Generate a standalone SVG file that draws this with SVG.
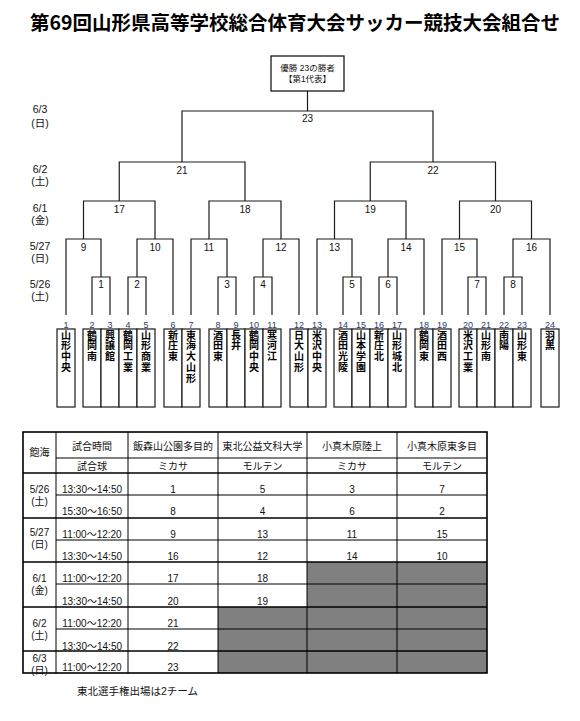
<svg xmlns="http://www.w3.org/2000/svg" width="580" height="721" viewBox="0 0 580 721">
<style>
.t{font-family:"Liberation Sans","Noto Sans CJK JP",sans-serif;fill:#111}
.title{font-family:"Noto Sans CJK JP","Liberation Sans",sans-serif;font-weight:bold;font-size:19.5px;text-anchor:middle;fill:#000}
.ln{fill:none;stroke:#1a1a1a;stroke-width:1.2}
.cell{fill:#fff;stroke:#1a1a1a;stroke-width:1.2}
.tn{font-family:"Noto Sans CJK JP",sans-serif;font-weight:bold;font-size:10px;fill:#000;writing-mode:vertical-rl;letter-spacing:0.7px}
.no{font-family:"Liberation Sans",sans-serif;font-size:9px;text-anchor:middle;fill:#1f3a6a}
.mn{font-size:10px;text-anchor:middle}
.dt{font-size:10.5px;text-anchor:middle}
.tb{font-size:10px;text-anchor:middle}
.g{fill:#808080}
.th{stroke:#000;stroke-width:1.6}
.tl{stroke:#000;stroke-width:1}
.bx{fill:#fff;stroke:#1a1a1a;stroke-width:1.3}
</style>
<rect width="580" height="721" fill="#fff"/>
<text class="title" x="295" y="30">第69回山形県高等学校総合体育大会サッカー競技大会組合せ</text>

<g id="champion">
<rect class="bx" x="271" y="56" width="73" height="35"/>
<text class="t" x="307.5" y="71" font-size="8.5" text-anchor="middle" fill="#333">優勝 23の勝者</text>
<text class="t" x="307.5" y="82" font-size="8.5" text-anchor="middle" fill="#333">【第1代表】</text>
</g>

<g id="dates">
<text class="t dt" x="40" y="112.5">6/3</text><text class="t dt" x="40" y="126.5">(日)</text>
<text class="t dt" x="40" y="172.5">6/2</text><text class="t dt" x="40" y="185">(土)</text>
<text class="t dt" x="40" y="211.5">6/1</text><text class="t dt" x="40" y="223.5">(金)</text>
<text class="t dt" x="40" y="249.5">5/27</text><text class="t dt" x="40" y="262">(日)</text>
<text class="t dt" x="40" y="287.5">5/26</text><text class="t dt" x="40" y="300">(土)</text>
</g>

<g id="connectors">
<path class="ln" d="M307.5 91V111"/>
<path class="ln" d="M182 162V111H433V162"/>
<path class="ln" d="M119.25 201V162H245V201"/>
<path class="ln" d="M370.25 201V162H495.5V201"/>
<path class="ln" d="M83.5 239V201H155V239"/>
<path class="ln" d="M209 239V201H281V239"/>
<path class="ln" d="M334.5 239V201H406V239"/>
<path class="ln" d="M459.5 239V201H531.5V239"/>
<path class="ln" d="M66 315V239H101V277"/>
<path class="ln" d="M137 277V239H173V315"/>
<path class="ln" d="M191 315V239H227V277"/>
<path class="ln" d="M263 277V239H299V315"/>
<path class="ln" d="M317 315V239H352V277"/>
<path class="ln" d="M388 277V239H424V315"/>
<path class="ln" d="M442 315V239H477V277"/>
<path class="ln" d="M513 277V239H550V315"/>
<path class="ln" d="M92 315V277H110V315"/>
<path class="ln" d="M128 315V277H146V315"/>
<path class="ln" d="M218 315V277H236V315"/>
<path class="ln" d="M254 315V277H272V315"/>
<path class="ln" d="M343 315V277H361V315"/>
<path class="ln" d="M379 315V277H397V315"/>
<path class="ln" d="M468 315V277H486V315"/>
<path class="ln" d="M504 315V277H522V315"/>
</g>

<g id="match-labels" class="t mn">
<text x="307.5" y="121.5">23</text>
<text x="182" y="173.5">21</text><text x="433" y="173.5">22</text>
<text x="119.25" y="212.5">17</text><text x="245" y="212.5">18</text><text x="370.25" y="212.5">19</text><text x="495.5" y="212.5">20</text>
<text x="83.5" y="250.5">9</text><text x="155" y="250.5">10</text><text x="209" y="250.5">11</text><text x="281" y="250.5">12</text>
<text x="334.5" y="250.5">13</text><text x="406" y="250.5">14</text><text x="459.5" y="250.5">15</text><text x="531.5" y="250.5">16</text>
<text x="101" y="287.5">1</text><text x="137" y="287.5">2</text><text x="227" y="287.5">3</text><text x="263" y="287.5">4</text>
<text x="352" y="287.5">5</text><text x="388" y="287.5">6</text><text x="477" y="287.5">7</text><text x="513" y="287.5">8</text>
</g>

<g id="team1"><rect class="cell" x="57" y="329" width="18" height="78"/><text class="no" x="66" y="327.5">1</text><text class="tn" x="66" y="330">山形中央</text></g>
<g id="team2"><rect class="cell" x="83" y="329" width="18" height="78"/><text class="no" x="92" y="327.5">2</text><text class="tn" x="92" y="330">鶴岡南</text></g>
<g id="team3"><rect class="cell" x="101" y="329" width="18" height="78"/><text class="no" x="110" y="327.5">3</text><text class="tn" x="110" y="330">興譲館</text></g>
<g id="team4"><rect class="cell" x="119" y="329" width="18" height="78"/><text class="no" x="128" y="327.5">4</text><text class="tn" x="128" y="330">鶴岡工業</text></g>
<g id="team5"><rect class="cell" x="137" y="329" width="18" height="78"/><text class="no" x="146" y="327.5">5</text><text class="tn" x="146" y="330">山形商業</text></g>
<g id="team6"><rect class="cell" x="164" y="329" width="18" height="78"/><text class="no" x="173" y="327.5">6</text><text class="tn" x="173" y="330">新庄東</text></g>
<g id="team7"><rect class="cell" x="182" y="329" width="18" height="78"/><text class="no" x="191" y="327.5">7</text><text class="tn" x="191" y="330">東海大山形</text></g>
<g id="team8"><rect class="cell" x="209" y="329" width="18" height="78"/><text class="no" x="218" y="327.5">8</text><text class="tn" x="218" y="330">酒田東</text></g>
<g id="team9"><rect class="cell" x="227" y="329" width="18" height="78"/><text class="no" x="236" y="327.5">9</text><text class="tn" x="236" y="330">長井</text></g>
<g id="team10"><rect class="cell" x="245" y="329" width="18" height="78"/><text class="no" x="254" y="327.5">10</text><text class="tn" x="254" y="330">鶴岡中央</text></g>
<g id="team11"><rect class="cell" x="263" y="329" width="18" height="78"/><text class="no" x="272" y="327.5">11</text><text class="tn" x="272" y="330">寒河江</text></g>
<g id="team12"><rect class="cell" x="290" y="329" width="18" height="78"/><text class="no" x="299" y="327.5">12</text><text class="tn" x="299" y="330">日大山形</text></g>
<g id="team13"><rect class="cell" x="308" y="329" width="18" height="78"/><text class="no" x="317" y="327.5">13</text><text class="tn" x="317" y="330">米沢中央</text></g>
<g id="team14"><rect class="cell" x="334" y="329" width="18" height="78"/><text class="no" x="343" y="327.5">14</text><text class="tn" x="343" y="330">酒田光陵</text></g>
<g id="team15"><rect class="cell" x="352" y="329" width="18" height="78"/><text class="no" x="361" y="327.5">15</text><text class="tn" x="361" y="330">山本学園</text></g>
<g id="team16"><rect class="cell" x="370" y="329" width="18" height="78"/><text class="no" x="379" y="327.5">16</text><text class="tn" x="379" y="330">新庄北</text></g>
<g id="team17"><rect class="cell" x="388" y="329" width="18" height="78"/><text class="no" x="397" y="327.5">17</text><text class="tn" x="397" y="330">山形城北</text></g>
<g id="team18"><rect class="cell" x="415" y="329" width="18" height="78"/><text class="no" x="424" y="327.5">18</text><text class="tn" x="424" y="330">鶴岡東</text></g>
<g id="team19"><rect class="cell" x="433" y="329" width="18" height="78"/><text class="no" x="442" y="327.5">19</text><text class="tn" x="442" y="330">酒田西</text></g>
<g id="team20"><rect class="cell" x="459" y="329" width="18" height="78"/><text class="no" x="468" y="327.5">20</text><text class="tn" x="468" y="330">米沢工業</text></g>
<g id="team21"><rect class="cell" x="477" y="329" width="18" height="78"/><text class="no" x="486" y="327.5">21</text><text class="tn" x="486" y="330">山形南</text></g>
<g id="team22"><rect class="cell" x="495" y="329" width="18" height="78"/><text class="no" x="504" y="327.5">22</text><text class="tn" x="504" y="330">南陽</text></g>
<g id="team23"><rect class="cell" x="513" y="329" width="18" height="78"/><text class="no" x="522" y="327.5">23</text><text class="tn" x="522" y="330">山形東</text></g>
<g id="team24"><rect class="cell" x="541" y="329" width="18" height="78"/><text class="no" x="550" y="327.5">24</text><text class="tn" x="550" y="330">羽黒</text></g>

<g id="schedule-table">
<rect x="23" y="432" width="464" height="241" fill="#fff"/>
<rect class="g" x="307" y="562" width="180" height="45"/>
<rect class="g" x="218" y="607" width="269" height="66"/>
<g class="tl">
<line x1="56" y1="458" x2="487" y2="458"/>
<line x1="56" y1="495" x2="487" y2="495"/>
<line x1="56" y1="540" x2="487" y2="540"/>
<line x1="56" y1="584" x2="487" y2="584"/>
<line x1="56" y1="629" x2="487" y2="629"/>
<line x1="56" y1="432" x2="56" y2="673"/>
<line x1="128" y1="432" x2="128" y2="673"/>
<line x1="218" y1="432" x2="218" y2="673"/>
<line x1="307" y1="432" x2="307" y2="673"/>
<line x1="397" y1="432" x2="397" y2="673"/>
</g>
<g class="th">
<line x1="23" y1="473" x2="487" y2="473"/>
<line x1="23" y1="518" x2="487" y2="518"/>
<line x1="23" y1="562" x2="487" y2="562"/>
<line x1="23" y1="607" x2="487" y2="607"/>
<line x1="23" y1="651" x2="487" y2="651"/>
<rect x="23" y="432" width="464" height="241" fill="none"/>
</g>
<g class="t tb">
<text x="39.5" y="456">飽海</text>
<text x="92" y="449.5">試合時間</text>
<text x="173" y="449.5">飯森山公園多目的</text>
<text x="262.5" y="449.5">東北公益文科大学</text>
<text x="352" y="449.5">小真木原陸上</text>
<text x="442" y="449.5">小真木原東多目</text>
<text x="92" y="469.5">試合球</text>
<text x="173" y="469.5">ミカサ</text>
<text x="262.5" y="469.5">モルテン</text>
<text x="352" y="469.5">ミカサ</text>
<text x="442" y="469.5">モルテン</text>

<text x="39.5" y="493">5/26</text><text x="39.5" y="504.5">(土)</text>
<text x="39.5" y="535.5">5/27</text><text x="39.5" y="548">(日)</text>
<text x="39.5" y="581.5">6/1</text><text x="39.5" y="594">(金)</text>
<text x="39.5" y="626.5">6/2</text><text x="39.5" y="639">(土)</text>
<text x="39.5" y="661.5">6/3</text><text x="39.5" y="673.5">(日)</text>

<text x="92" y="493">13:30〜14:50</text><text x="173" y="493">1</text><text x="262.5" y="493">5</text><text x="352" y="493">3</text><text x="442" y="493">7</text>
<text x="92" y="515">15:30〜16:50</text><text x="173" y="515">8</text><text x="262.5" y="515">4</text><text x="352" y="515">6</text><text x="442" y="515">2</text>
<text x="92" y="537.5">11:00〜12:20</text><text x="173" y="537.5">9</text><text x="262.5" y="537.5">13</text><text x="352" y="537.5">11</text><text x="442" y="537.5">15</text>
<text x="92" y="559.5">13:30〜14:50</text><text x="173" y="559.5">16</text><text x="262.5" y="559.5">12</text><text x="352" y="559.5">14</text><text x="442" y="559.5">10</text>
<text x="92" y="581.5">11:00〜12:20</text><text x="173" y="581.5">17</text><text x="262.5" y="581.5">18</text>
<text x="92" y="605">13:30〜14:50</text><text x="173" y="605">20</text><text x="262.5" y="605">19</text>
<text x="92" y="626.5">11:00〜12:20</text><text x="173" y="626.5">21</text>
<text x="92" y="649.5">13:30〜14:50</text><text x="173" y="649.5">22</text>
<text x="92" y="671">11:00〜12:20</text><text x="173" y="671">23</text>
</g>
</g>

<text class="t" x="77" y="695" font-size="10.5">東北選手権出場は2チーム</text>
</svg>
